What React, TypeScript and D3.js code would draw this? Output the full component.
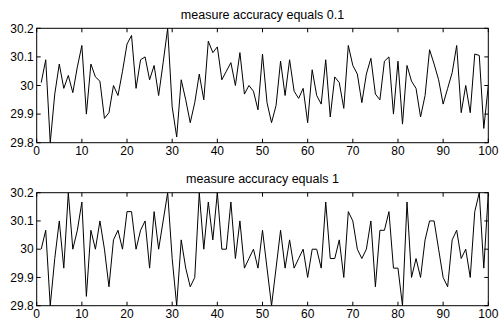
import React from 'react'
import * as d3 from 'd3'

// measured values, sample index 1..100
const coarseTitle = 'measure accuracy equals 0.1'
const fineTitle = 'measure accuracy equals 1'

const series01 = [
  30.01, 30.09, 29.8, 29.97, 30.075, 29.99, 30.035, 29.975, 30.065, 30.14,
  29.9, 30.075, 30.03, 30.015, 29.885, 29.905, 30.0, 29.965, 30.05, 30.145,
  30.175, 29.99, 30.09, 30.1, 30.02, 30.07, 29.965, 30.08, 30.2, 29.925,
  29.82, 30.02, 29.95, 29.87, 29.94, 30.04, 29.95, 30.155, 30.115, 30.135,
  30.02, 30.05, 30.08, 30.0, 30.115, 29.97, 30.0, 29.98, 29.915, 30.11,
  29.94, 29.87, 29.93, 30.085, 29.965, 30.09, 29.98, 29.955, 29.99, 29.87,
  30.055, 29.965, 29.935, 30.09, 29.89, 30.03, 30.01, 29.92, 30.14, 30.07,
  30.04, 29.94, 30.04, 30.095, 29.97, 29.95, 30.085, 30.1, 29.9, 30.085,
  29.865, 30.07, 30.015, 29.99, 29.89, 29.965, 30.125, 30.075, 30.02, 29.935,
  29.99, 30.045, 30.14, 29.905, 30.0, 29.905, 30.11, 30.105, 29.85, 30.0,
]

const series1 = [
  30.0, 30.067, 29.8, 29.967, 30.1, 29.933, 30.2, 30.0, 30.067, 30.167,
  29.833, 30.067, 30.0, 30.1, 30.0, 29.867, 30.033, 30.067, 30.0, 30.133,
  30.133, 30.0, 30.067, 30.1, 29.933, 30.133, 30.0, 30.1, 30.2, 29.967,
  29.8, 30.033, 29.933, 29.867, 29.9, 30.2, 30.0, 30.167, 30.033, 30.2,
  30.0, 30.0, 30.167, 29.967, 30.1, 29.933, 29.967, 30.0, 29.933, 30.067,
  29.933, 29.8, 29.933, 30.067, 29.933, 30.033, 29.933, 29.967, 30.0, 29.9,
  30.0, 30.0, 29.933, 30.167, 29.967, 29.967, 30.033, 29.9, 30.133, 30.1,
  30.0, 29.967, 30.0, 30.1, 29.867, 30.067, 30.067, 30.133, 29.933, 29.933,
  29.8, 30.167, 29.9, 29.967, 29.9, 30.033, 30.1, 30.1, 30.0, 29.9,
  29.867, 30.033, 30.067, 29.967, 30.0, 29.9, 30.133, 30.2, 29.933, 30.2,
]

const xTicks = [0, 10, 20, 30, 40, 50, 60, 70, 80, 90, 100]
const yTicks = [29.8, 29.9, 30, 30.1, 30.2]
const yTickLabels = ['29.8', '29.9', '30', '30.1', '30.2']

const font = 'Arial, "Liberation Sans", Helvetica, sans-serif'

const Panel = ({ values, title, top, bottom, id }) => {
  const left = 36.7
  const right = 488.3
  const x = d3.scaleLinear().domain([0, 100]).range([left, right])
  const y = d3.scaleLinear().domain([29.8, 30.2]).range([bottom, top])
  const line = d3
    .line<number>()
    .x((d, i) => x(i + 1))
    .y((d) => y(d))
  const tk = 4

  return (
    <g>
      <defs>
        <clipPath id={id}>
          <rect x={left} y={top} width={right - left} height={bottom - top} />
        </clipPath>
      </defs>
      <text
        x={(left + right) / 2}
        y={top - 9.5}
        textAnchor="middle"
        fontSize={12.5}
        fontFamily={font}
      >
        {title}
      </text>
      <path
        d={line(values) || ''}
        fill="none"
        stroke="#000"
        strokeWidth={1}
        clipPath={`url(#${id})`}
      />
      <rect
        x={left}
        y={top}
        width={right - left}
        height={bottom - top}
        fill="none"
        stroke="#000"
        strokeWidth={1}
      />
      {xTicks.map((t) => (
        <g key={'x' + t}>
          <line x1={x(t)} x2={x(t)} y1={bottom} y2={bottom - tk} stroke="#000" />
          <line x1={x(t)} x2={x(t)} y1={top} y2={top + tk} stroke="#000" />
          <text
            x={x(t)}
            y={bottom + 12.5}
            textAnchor="middle"
            fontSize={12}
            fontFamily={font}
          >
            {t}
          </text>
        </g>
      ))}
      {yTicks.map((t, i) => (
        <g key={'y' + t}>
          <line x1={left} x2={left + tk} y1={y(t)} y2={y(t)} stroke="#000" />
          <line x1={right} x2={right - tk} y1={y(t)} y2={y(t)} stroke="#000" />
          <text
            x={left - 3}
            y={y(t) + 4.2}
            textAnchor="end"
            fontSize={12}
            fontFamily={font}
          >
            {yTickLabels[i]}
          </text>
        </g>
      ))}
    </g>
  )
}

export default function App() {
  return (
    <svg
      width={502}
      height={320}
      style={{ position: 'absolute', left: 0, top: 0, background: '#fff' }}
    >
      <rect width={502} height={320} fill="#fff" />
      <Panel values={series01} title={coarseTitle} top={28.3} bottom={142.7} id="c1" />
      <Panel values={series1} title={fineTitle} top={192.7} bottom={305.7} id="c2" />
    </svg>
  )
}
